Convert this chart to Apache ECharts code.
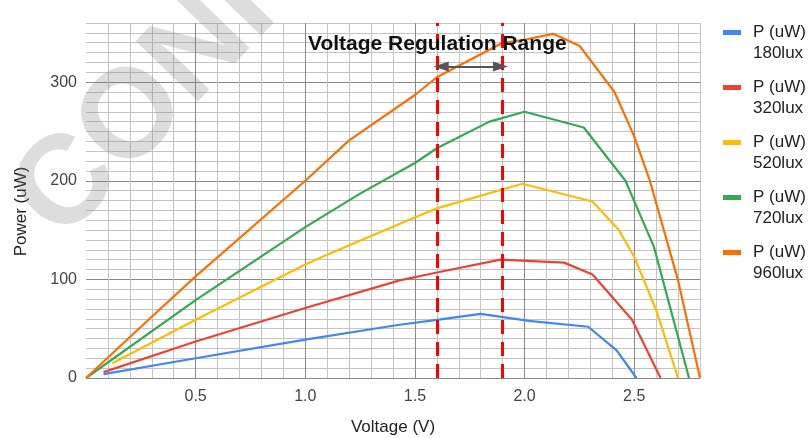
<!DOCTYPE html>
<html>
<head>
<meta charset="utf-8">
<script src="https://cdn.jsdelivr.net/npm/echarts@6/dist/echarts.min.js"></script>
<style>
html, body { margin: 0; padding: 0; background: #fff; }
#chart-container { width: 809px; height: 438px; }
</style>
</head>
<body>
<div id="chart-container"></div>
<script>
// [voltage V, power uW]
var p180 = [[0.08, 4], [0.5, 20], [1.0, 39], [1.43, 54], [1.6, 59], [1.8, 65], [2.02, 58], [2.29, 52], [2.42, 28], [2.51, 0]];
var p320 = [[0.08, 6], [0.5, 37], [1.0, 71], [1.43, 99], [1.6, 107], [1.89, 120], [2.18, 117], [2.31, 105], [2.49, 59], [2.62, 0]];
var p520 = [[0.12, 15], [0.5, 59], [1.0, 115], [1.11, 126], [1.48, 161], [1.6, 172], [1.99, 197], [2.31, 179], [2.43, 150], [2.5, 123], [2.6, 69], [2.7, 0]];
var p720 = [[0, 0], [0.5, 79], [1.0, 153], [1.25, 187], [1.5, 218], [1.6, 233], [1.84, 260], [2.0, 270], [2.27, 254], [2.46, 200], [2.59, 133], [2.75, 0]];
var p960 = [[0, 0], [0.28, 58], [0.5, 103], [1.0, 200], [1.2, 241], [1.5, 287], [1.6, 305], [1.9, 340], [2.0, 343], [2.13, 349], [2.25, 337], [2.41, 290], [2.5, 245], [2.57, 201], [2.7, 99], [2.8, 0]];

var seriesNames = ['P (uW)\n180lux', 'P (uW)\n320lux', 'P (uW)\n520lux', 'P (uW)\n720lux', 'P (uW)\n960lux'];
var seriesData = [p180, p320, p520, p720, p960];
var colors = ['#4285F4', '#EA4335', '#FBBC04', '#34A853', '#FF6D01'];

var xRange = [0, 2.8];
var yRange = [0, 360];
var regulation = [1.6, 1.9];
var arrowPts = [[1.62, 316], [1.89, 316]];
var titleText = 'Voltage Regulation Range';
var watermark = 'CONFIDENTIAL';

var font = '"Liberation Sans", Arial, sans-serif';

var dom = document.getElementById('chart-container');
var myChart = echarts.init(dom, null, { renderer: 'canvas' });

var series = seriesData.map(function (d, i) {
    return {
        name: seriesNames[i],
        type: 'line',
        xAxisIndex: 1,
        yAxisIndex: 1,
        data: d,
        symbol: 'none',
        lineStyle: { width: 2.2, color: colors[i] },
        itemStyle: { color: colors[i] },
        z: 3
    };
});

// red dashed limits
series[0].markLine = {
    silent: true,
    symbol: 'none',
    label: { show: false },
    lineStyle: { color: '#ff0000', width: 3, type: [14, 8] },
    data: regulation.map(function (v) { return { xAxis: v }; }),
    z: 5
};
// double arrow between them
series[1].markLine = {
    silent: true,
    symbol: ['triangle', 'triangle'],
    symbolSize: [10, 15],
    label: { show: false },
    lineStyle: { color: '#555', width: 2, type: 'solid' },
    data: [[{ coord: arrowPts[0] }, { coord: arrowPts[1] }]],
    z: 5
};

var option = {
    animation: false,
    color: colors,
    textStyle: { fontFamily: font },
    title: {
        text: titleText,
        left: 308,
        top: 34,
        padding: 0,
        textStyle: { fontSize: 21, fontWeight: 'bold', color: '#111', fontFamily: font }
    },
    grid: { left: 86, right: 109, top: 23, bottom: 60, outerBoundsMode: 'none' },
    legend: {
        orient: 'vertical',
        left: 723,
        top: 22,
        padding: 0,
        itemGap: 13,
        itemWidth: 25,
        itemHeight: 26,
        icon: 'path://M0,0L18,0L18,5L0,5Z M24.9,26L25,26',
        itemStyle: { borderWidth: 0 },
        textStyle: { fontSize: 17, lineHeight: 21, color: '#222', fontFamily: font },
        data: seriesNames
    },
    xAxis: [{
        type: 'value', position: 'bottom', min: xRange[0], max: xRange[1], interval: 0.1,
        axisLine: { show: false }, axisTick: { show: false }, axisLabel: { show: false },
        splitLine: { show: true, showMinLine: false, lineStyle: { color: '#c4c4c4', width: 1 } }
    }, {
        type: 'value', position: 'bottom', min: xRange[0], max: xRange[1], interval: 0.5,
        name: 'Voltage (V)', nameLocation: 'middle', nameGap: 41,
        nameTextStyle: { fontSize: 17, color: '#222', fontFamily: font },
        axisLine: { show: false }, axisTick: { show: false },
        axisLabel: {
            margin: 11, fontSize: 16, color: '#444', fontFamily: font,
            showMinLabel: false, showMaxLabel: false,
            formatter: function (v) { return v.toFixed(1); }
        },
        splitLine: { show: true, showMinLine: false, showMaxLine: false, lineStyle: { color: '#888', width: 1 } }
    }],
    yAxis: [{
        type: 'value', position: 'left', min: yRange[0], max: yRange[1], interval: 10,
        axisLine: { show: false }, axisTick: { show: false }, axisLabel: { show: false },
        splitLine: { show: true, lineStyle: { color: '#c4c4c4', width: 1 } }
    }, {
        type: 'value', position: 'left', min: yRange[0], max: yRange[1], interval: 100,
        name: 'Power (uW)', nameLocation: 'middle', nameGap: 56,
        nameTextStyle: { fontSize: 17, color: '#222', fontFamily: font, padding: [0, 22, 0, 0] },
        axisLine: { show: false }, axisTick: { show: false },
        axisLabel: { margin: 9, fontSize: 16, color: '#444', fontFamily: font, showMaxLabel: false },
        splitLine: { show: true, showMaxLine: false, lineStyle: { color: '#888', width: 1 } }
    }],
    graphic: [{
        type: 'text',
        x: 36,
        y: 219,
        rotation: 46 * Math.PI / 180,
        silent: true,
        z: 100,
        style: {
            text: watermark,
            font: 'bold 126px ' + font,
            fill: 'rgba(128,128,128,0.27)',
            align: 'left',
            verticalAlign: 'middle'
        }
    }],
    series: series
};

myChart.setOption(option);
window.addEventListener('resize', myChart.resize);
</script>
</body>
</html>
